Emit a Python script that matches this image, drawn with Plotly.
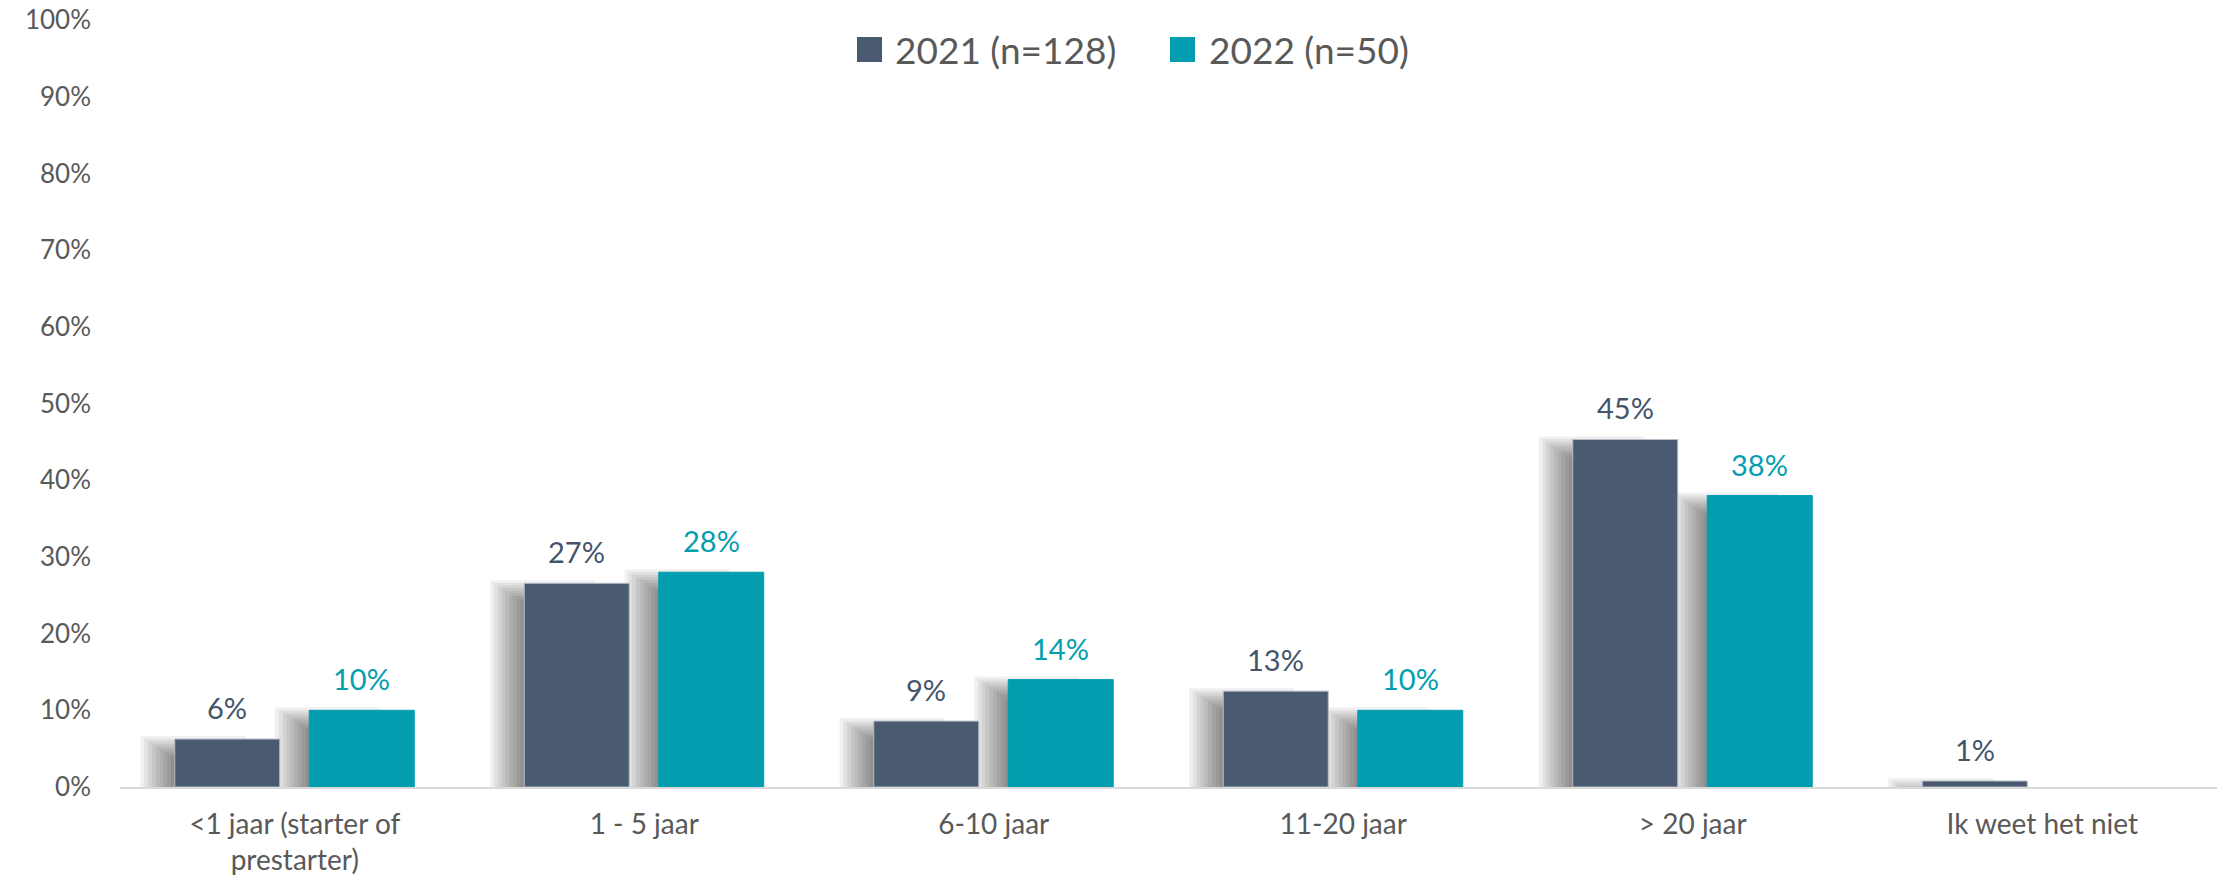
import plotly.graph_objects as go

categories = ["<1 jaar (starter of<br>prestarter)", "1 - 5 jaar", "6-10 jaar",
              "11-20 jaar", "> 20 jaar", "Ik weet het niet"]
series_names = ["2021 (n=128)", "2022 (n=50)"]
values_2021 = [6.25, 26.56, 8.59, 12.5, 45.31, 0.78]
values_2022 = [10.0, 28.0, 14.0, 10.0, 38.0, None]
y_tick_vals = [0, 10, 20, 30, 40, 50, 60, 70, 80, 90, 100]
y_tick_text = ["0%", "10%", "20%", "30%", "40%", "50%", "60%", "70%", "80%", "90%", "100%"]

# page body has an 8px margin: figure is placed at window (8, 8)
BODY = 8
W, H = 2227 - 2 * BODY, 885 - 2 * BODY
# target plot area in window px: x 120..2217, y 20..787
ML = 120 - BODY
MT = 20 - BODY
MR = (W + BODY) - 2217
MB = (H + BODY) - 787
plot_w = W - ML - MR
plot_h = H - MT - MB
cat_px = plot_w / len(categories)
px_per_unit = plot_h / 100.0

bar_colors = ["#4A5A71", "#029EB0"]
bar_edges = ["#B4BDC8", "#029EB0"]
label_colors = ["#44546A", "#029EB0"]
bar_w = 105 / cat_px
offsets = [-120 / cat_px, 14.5 / cat_px]
all_values = [values_2021, values_2022]

fig = go.Figure()

# soft drop shadows behind the bars
N_SH = 9
for s, vals in enumerate(all_values):
    for k in range(1, N_SH + 1):
        drop = (2.6 * (N_SH - k) - 3) / px_per_unit
        ys = [None if v is None else max(v - drop, 0) for v in vals]
        fig.add_trace(go.Bar(
            x=categories, y=ys, width=bar_w,
            offset=offsets[s] - 3.8 * k / cat_px,
            marker=dict(color="rgba(0,0,0,0.06)", line=dict(width=0)),
            hoverinfo="skip", showlegend=False))

for s, vals in enumerate(all_values):
    fig.add_trace(go.Bar(
        x=categories, y=vals, name=series_names[s], width=bar_w,
        offset=offsets[s],
        marker=dict(color=bar_colors[s], line=dict(width=1, color=bar_edges[s])),
        showlegend=False))


def fmt(v):
    return f"{int(v + 0.5)}%"


for s, vals in enumerate(all_values):
    xs = (offsets[s] + bar_w / 2) * cat_px
    for c, v in zip(categories, vals):
        if v is None:
            continue
        fig.add_annotation(x=c, y=v, text=fmt(v), showarrow=False,
                           xshift=xs, yshift=12, yanchor="bottom",
                           font=dict(family="Lato", size=29, color=label_colors[s]))


# custom legend (large square swatches like the original), window px -> paper
def px_x(px):
    return (px - BODY - ML) / plot_w


def px_y(py):
    return (MT + plot_h - (py - BODY)) / plot_h


legend_items = [(857, 893), (1170, 1207)]
for s, (sx, tx) in enumerate(legend_items):
    fig.add_shape(type="rect", xref="paper", yref="paper",
                  x0=px_x(sx), x1=px_x(sx + 25), y0=px_y(37), y1=px_y(62),
                  fillcolor=bar_colors[s], line=dict(width=0))
    fig.add_annotation(xref="paper", yref="paper", x=px_x(tx), y=px_y(49.5),
                       xanchor="left", yanchor="middle", showarrow=False,
                       text=series_names[s],
                       font=dict(family="Lato", size=37, color="#595959"))

fig.update_layout(
    width=W, height=H,
    margin=dict(l=ML, r=MR, t=MT, b=MB, pad=0, autoexpand=False),
    barmode="overlay",
    plot_bgcolor="white", paper_bgcolor="white",
    showlegend=False,
    font=dict(family="Lato", color="#595959"),
)
fig.update_xaxes(
    type="category", showgrid=False, showline=True, linecolor="#D9D9D9",
    linewidth=2, ticks="", tickfont=dict(family="Lato", size=28, color="#595959"),
    ticklabelstandoff=11, ticklabeloverflow="allow",
    automargin=False, fixedrange=True)
fig.update_yaxes(
    range=[0, 100], tickvals=y_tick_vals, ticktext=y_tick_text,
    showgrid=False, zeroline=False, showline=False, ticks="",
    tickfont=dict(family="Lato", size=26, color="#595959"),
    ticklabelstandoff=28, ticklabeloverflow="allow",
    automargin=False, fixedrange=True)

fig.write_html("out.html")
